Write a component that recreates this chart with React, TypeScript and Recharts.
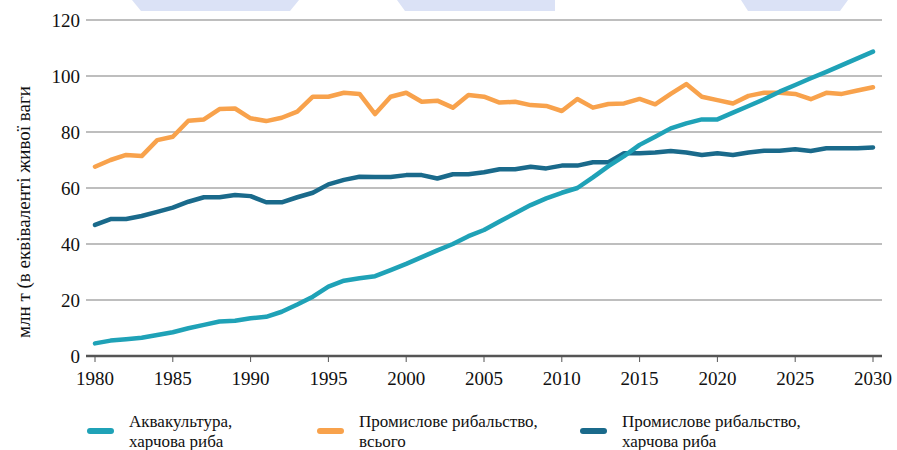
import React from "react";
import { LineChart, Line, XAxis, YAxis, CartesianGrid, Legend } from "recharts";

const years = [
    1980, 1981, 1982, 1983, 1984, 1985, 1986, 1987, 1988, 1989,
    1990, 1991, 1992, 1993, 1994, 1995, 1996, 1997, 1998, 1999,
    2000, 2001, 2002, 2003, 2004, 2005, 2006, 2007, 2008, 2009,
    2010, 2011, 2012, 2013, 2014, 2015, 2016, 2017, 2018, 2019,
    2020, 2021, 2022, 2023, 2024, 2025, 2026, 2027, 2028, 2029,
    2030,
];

// Аквакультура, харчова риба
const aquacultureFood = [
    4.5, 5.5, 6, 6.5, 7.5, 8.5, 9.9, 11.1, 12.3, 12.6,
    13.5, 14, 15.8, 18.4, 21.2, 24.8, 26.9, 27.8, 28.5, 30.7,
    32.9, 35.3, 37.7, 40, 42.8, 45, 48, 51, 53.9, 56.3,
    58.3, 60, 63.8, 67.8, 71.4, 75.4, 78.3, 81.3, 83.1, 84.5,
    84.5, 86.9, 89.3, 91.7, 94.4, 96.8, 99.2, 101.5, 103.9, 106.3,
    108.7,
];

// Промислове рибальство, всього
const captureTotal = [
    67.6, 70, 71.8, 71.4, 77.1, 78.3, 84, 84.5, 88.2, 88.4,
    84.9, 83.9, 85.1, 87.3, 92.6, 92.6, 94, 93.6, 86.4, 92.6,
    94, 90.8, 91.2, 88.7, 93.2, 92.6, 90.5, 90.8, 89.6, 89.3,
    87.5, 91.8, 88.7, 90, 90.2, 91.8, 89.9, 93.6, 97.1, 92.6,
    91.4, 90.2, 92.9, 94, 94, 93.6, 91.7, 94, 93.6, 94.8,
    96,
];

// Промислове рибальство, харчова риба
const captureFood = [
    46.8, 48.9, 48.9, 50, 51.5, 53, 55.1, 56.7, 56.7, 57.5,
    57.1, 54.9, 54.9, 56.7, 58.3, 61.3, 62.9, 64, 63.9, 63.9,
    64.6, 64.6, 63.4, 64.9, 64.9, 65.6, 66.7, 66.7, 67.6, 67,
    68, 68, 69.2, 69.2, 72.4, 72.4, 72.7, 73.2, 72.7, 71.8,
    72.4, 71.8, 72.7, 73.3, 73.3, 73.8, 73.2, 74.2, 74.2, 74.2,
    74.5,
];

const xTicks = [1980, 1985, 1990, 1995, 2000, 2005, 2010, 2015, 2020, 2025, 2030];
const yTicks = [0, 20, 40, 60, 80, 100, 120];

const yLabel = "млн т (в еквіваленті живої ваги";

const legendOrder = ["aquaculture", "captureTotal", "captureFood"];
const legendLines: { [key: string]: string[] } = {
    aquaculture: ["Аквакультура,", "харчова риба"],
    captureTotal: ["Промислове рибальство,", "всього"],
    captureFood: ["Промислове рибальство,", "харчова риба"],
};
const legendWidths = [230, 263, 260];

const COLORS = {
    aquaculture: "#1fa2b7",
    captureTotal: "#f8a24c",
    captureFood: "#1a6a8b",
};

const data = years.map((year, i) => ({
    year,
    aquaculture: aquacultureFood[i],
    captureTotal: captureTotal[i],
    captureFood: captureFood[i],
}));

const FONT = "Liberation Serif";

const YAxisLabel = (props: any) => {
    const vb = props.viewBox || { x: 0, y: 20, height: 336 };
    const cx = vb.x + 23;
    const cy = vb.y + vb.height / 2 + 24;
    return (
        <text
            x={cx}
            y={cy}
            transform={`rotate(-90 ${cx} ${cy})`}
            textAnchor="middle"
            dominantBaseline="central"
            fontFamily={FONT}
            fontSize={19}
            fill="#111"
        >
            {yLabel}
        </text>
    );
};

const renderLegend = (props: any) => {
    const payload = props.payload || [];
    return (
        <div style={{ display: "flex", height: 40, fontFamily: FONT, fontSize: 17, color: "#111" }}>
            {legendOrder.map((key, i) => {
                const entry = payload.find((p: any) => p.dataKey === key);
                const color = entry ? entry.color : (COLORS as any)[key];
                return (
                    <div key={key} style={{ display: "flex", width: legendWidths[i] }}>
                        <div
                            style={{
                                width: 27,
                                height: 6,
                                borderRadius: 3,
                                background: color,
                                marginTop: 16,
                                marginRight: 15,
                                flexShrink: 0,
                            }}
                        />
                        <div style={{ lineHeight: "20px" }}>
                            {legendLines[key].map((line) => (
                                <div key={line}>{line}</div>
                            ))}
                        </div>
                    </div>
                );
            })}
        </div>
    );
};

const watermark = [
    "132,0 299,0 290,11 141,11",
    "397,0 555,0 555,11 405,11",
    "741,0 848,0 840,11 748,11",
];

const tickStyle = { fontFamily: FONT, fontSize: 19, fill: "#111" };

export default function App() {
    return (
        <div style={{ position: "absolute", left: 0, top: 0, width: 897, height: 450 }}>
            <svg width={897} height={14} style={{ position: "absolute", left: 0, top: 0 }}>
                {watermark.map((pts) => (
                    <polygon key={pts} points={pts} fill="#dbe2f6" />
                ))}
            </svg>
            <LineChart
                width={897}
                height={450}
                data={data}
                margin={{ top: 20, right: 15, left: 0, bottom: 0 }}
            >
                <CartesianGrid vertical={false} stroke="#a9a9a9" strokeWidth={1.5} />
                <XAxis
                    dataKey="year"
                    type="number"
                    domain={[1980, 2030]}
                    ticks={xTicks}
                    padding={{ left: 9, right: 9 }}
                    height={54}
                    axisLine={{ stroke: "#555", strokeWidth: 2.5 }}
                    tickLine={{ stroke: "#555", strokeWidth: 1 }}
                    tickSize={6}
                    tickMargin={10}
                    tick={tickStyle}
                />
                <YAxis
                    domain={[0, 120]}
                    ticks={yTicks}
                    width={86}
                    axisLine={false}
                    tickLine={false}
                    tickSize={0}
                    tickMargin={6}
                    tick={tickStyle}
                    label={<YAxisLabel />}
                />
                <Legend
                    verticalAlign="bottom"
                    content={renderLegend}
                    wrapperStyle={{ position: "absolute", left: 87, top: 412, width: 780, height: 40 }}
                />
                <Line
                    dataKey="captureTotal"
                    name="Промислове рибальство, всього"
                    stroke={COLORS.captureTotal}
                    strokeWidth={4.5}
                    strokeLinejoin="round"
                    strokeLinecap="round"
                    dot={false}
                    isAnimationActive={false}
                />
                <Line
                    dataKey="captureFood"
                    name="Промислове рибальство, харчова риба"
                    stroke={COLORS.captureFood}
                    strokeWidth={4.5}
                    strokeLinejoin="round"
                    strokeLinecap="round"
                    dot={false}
                    isAnimationActive={false}
                />
                <Line
                    dataKey="aquaculture"
                    name="Аквакультура, харчова риба"
                    stroke={COLORS.aquaculture}
                    strokeWidth={4.5}
                    strokeLinejoin="round"
                    strokeLinecap="round"
                    dot={false}
                    isAnimationActive={false}
                />
            </LineChart>
        </div>
    );
}
